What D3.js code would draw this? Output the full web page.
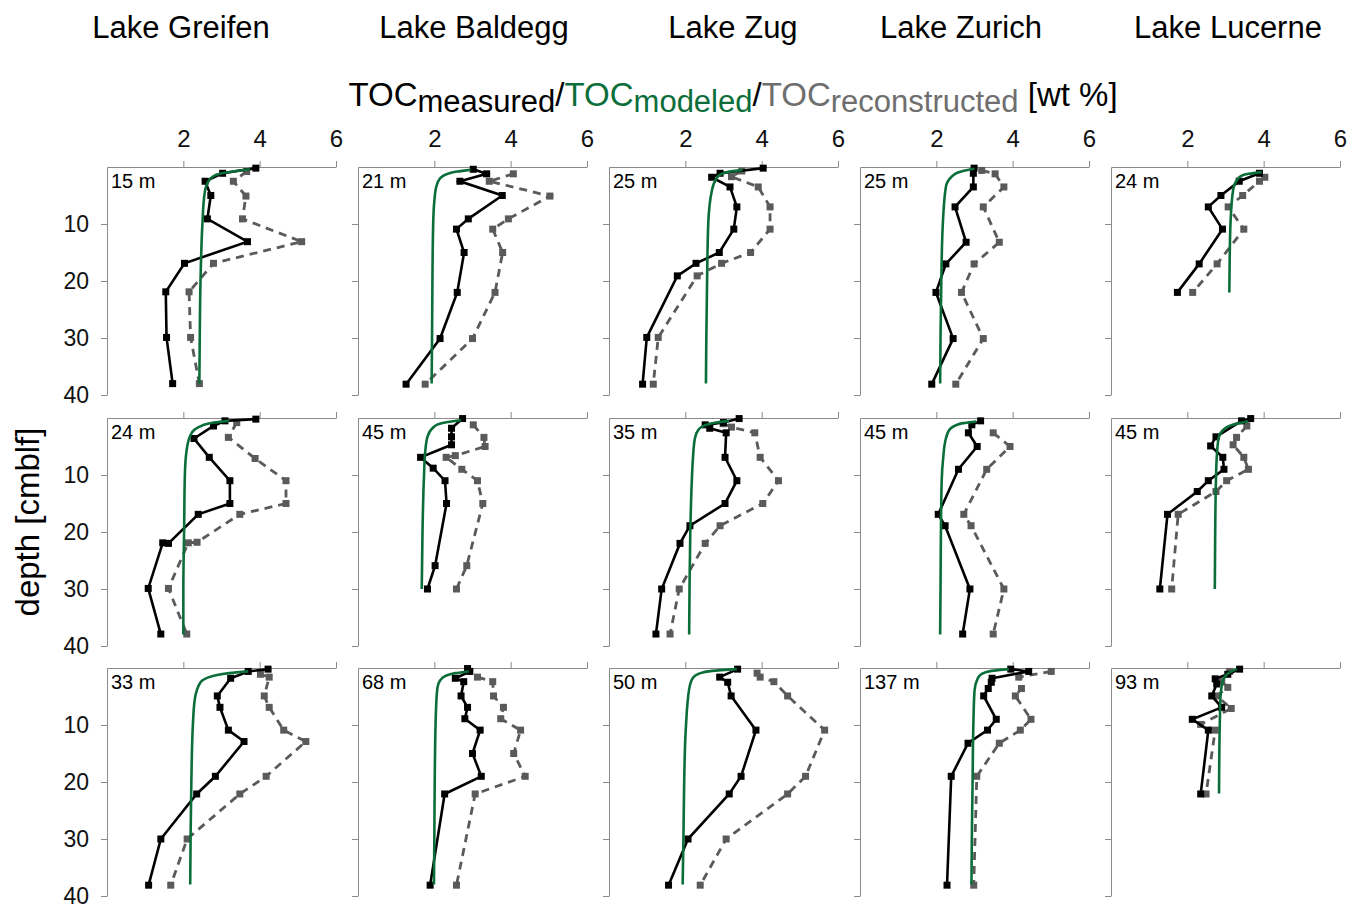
<!DOCTYPE html>
<html>
<head>
<meta charset="utf-8">
<script src="https://cdn.jsdelivr.net/npm/d3@7"></script>
<style>
  body { margin: 0; background: #fff; }
  svg { font-family: "Liberation Sans", Arial, sans-serif; }
</style>
</head>
<body>
<div id="chart"></div>
<script>
const lakes = ["Lake Greifen", "Lake Baldegg", "Lake Zug", "Lake Zurich", "Lake Lucerne"];

// water depth of each core, row by row (left to right)
const waterDepths = [
  "15 m", "21 m", "25 m", "25 m", "24 m",
  "24 m", "45 m", "35 m", "45 m", "45 m",
  "33 m", "68 m", "50 m", "137 m", "93 m"
];

const xTicks = [2, 4, 6];
const yTicks = [10, 20, 30, 40];

// [TOC wt %, depth cm]
const measuredTOC = [
  [[3.90,0.2],[3.03,1.1],[2.57,2.5],[2.72,5.0],[2.63,9.1],[3.68,13.1],[2.03,16.9],[1.54,21.9],[1.56,29.9],[1.72,38.0]],
  [[3.02,0.4],[3.37,1.2],[2.67,2.5],[3.78,5.0],[2.89,9.1],[2.58,10.9],[2.78,15.0],[2.60,22.0],[2.15,30.1],[1.26,38.1]],
  [[4.04,0.2],[2.91,1.1],[2.69,1.8],[3.17,3.5],[3.35,7.0],[3.27,10.9],[2.89,15.0],[2.28,16.9],[1.79,19.1],[0.99,29.9],[0.88,38.1]],
  [[2.99,0.2],[2.97,1.1],[2.97,3.5],[2.49,7.0],[2.78,13.2],[2.25,17.0],[1.99,22.0],[2.44,30.1],[1.88,38.1]],
  [[3.89,1.1],[3.36,2.5],[2.88,5.0],[2.55,7.0],[2.92,10.9],[2.31,17.0],[1.74,22.0]],
  [[3.90,0.2],[3.09,0.5],[2.79,1.4],[2.28,3.6],[2.68,6.9],[3.22,11.0],[3.22,15.0],[2.39,16.9],[1.61,22.0],[1.46,21.9],[1.08,29.9],[1.41,37.9]],
  [[2.74,0.1],[2.45,1.8],[2.45,3.3],[2.45,4.7],[1.64,6.9],[1.97,8.8],[2.28,11.0],[2.32,15.0],[2.02,25.9],[1.82,30.0]],
  [[3.41,0.1],[3.00,0.8],[2.52,1.2],[2.64,1.8],[3.07,2.6],[3.04,6.9],[3.35,11.0],[3.04,15.0],[2.12,18.9],[1.86,22.0],[1.38,30.0],[1.23,37.9]],
  [[3.16,0.5],[2.93,1.2],[2.84,2.6],[3.07,5.0],[2.58,9.0],[2.05,16.9],[2.23,18.9],[2.88,30.0],[2.69,37.9]],
  [[3.66,0.1],[3.42,0.5],[2.75,3.3],[2.61,4.9],[2.93,6.9],[2.96,9.0],[2.55,11.0],[2.26,12.9],[1.48,16.9],[1.28,30.0]],
  [[4.22,0.2],[3.70,0.6],[3.24,1.8],[2.89,4.9],[2.96,6.9],[3.18,10.9],[3.59,12.9],[2.84,19.0],[2.35,22.1],[1.41,30.0],[1.09,38.1]],
  [[2.87,0.1],[2.93,0.6],[2.55,1.8],[2.77,2.4],[2.70,4.9],[2.87,6.9],[2.80,8.9],[3.20,10.9],[3.00,15.0],[3.23,19.0],[2.27,22.1],[1.89,38.1]],
  [[3.37,0.2],[2.90,1.6],[3.11,2.5],[3.20,4.9],[3.85,10.9],[3.46,19.0],[3.15,22.1],[2.07,30.0],[1.56,38.1]],
  [[3.95,0.2],[4.42,0.6],[3.46,1.8],[3.44,2.5],[3.36,3.6],[3.24,4.9],[3.57,9.0],[3.34,10.9],[2.83,13.2],[2.39,19.0],[2.28,38.1]],
  [[3.37,0.2],[3.06,1.1],[2.73,1.9],[2.77,2.8],[2.64,4.9],[2.90,6.9],[2.13,9.0],[2.55,10.9],[2.35,22.1]]
];

const reconstructedTOC = [
  [[3.66,0.8],[3.31,2.5],[3.64,5.1],[3.55,9.1],[5.10,13.1],[2.79,16.9],[2.15,21.9],[2.19,29.9],[2.42,38.0]],
  [[4.07,1.2],[3.44,2.5],[5.03,5.1],[3.94,9.1],[3.53,10.9],[3.79,15.0],[3.59,22.0],[3.00,30.1],[1.76,38.1]],
  [[3.48,0.7],[3.21,1.7],[3.91,3.5],[4.22,7.0],[4.22,10.9],[3.71,15.0],[2.95,16.9],[2.31,19.1],[1.29,29.9],[1.16,38.1]],
  [[3.19,0.6],[3.54,1.2],[3.77,3.5],[3.23,7.0],[3.65,13.2],[2.99,17.0],[2.66,22.0],[3.23,30.1],[2.51,38.1]],
  [[4.03,1.8],[3.89,2.5],[3.45,5.0],[3.07,7.0],[3.48,10.9],[2.78,17.0],[2.14,22.0]],
  [[3.40,0.8],[3.18,3.4],[3.88,7.1],[4.69,11.0],[4.69,15.0],[3.48,16.9],[2.36,21.8],[2.13,21.9],[1.61,29.9],[2.09,37.9]],
  [[3.02,1.2],[3.30,3.4],[3.33,5.0],[2.55,6.6],[2.31,6.9],[2.72,9.0],[3.13,11.0],[3.27,15.0],[2.85,25.9],[2.58,30.0]],
  [[2.99,1.0],[3.21,1.6],[3.82,2.6],[3.96,6.9],[4.44,11.0],[4.03,15.0],[2.91,18.9],[2.52,22.0],[1.84,30.0],[1.60,37.9]],
  [[3.49,2.6],[3.93,5.0],[3.32,9.0],[2.72,16.9],[2.91,18.9],[3.77,30.0],[3.49,37.9]],
  [[3.56,1.4],[3.29,3.4],[3.20,4.7],[3.48,6.9],[3.60,9.0],[3.03,11.0],[2.75,12.9],[1.76,16.9],[1.59,30.0]],
  [[4.02,1.1],[4.25,1.6],[4.12,4.9],[4.25,6.9],[4.63,10.9],[5.21,12.9],[4.17,19.0],[3.48,22.1],[2.10,30.0],[1.67,38.1]],
  [[3.13,1.6],[3.53,2.4],[3.55,4.9],[3.81,6.9],[3.74,8.9],[4.26,10.9],[4.08,15.0],[4.38,19.0],[3.07,22.1],[2.58,38.1]],
  [[3.88,0.9],[3.96,1.6],[4.32,2.4],[4.68,4.9],[5.65,10.9],[5.15,19.0],[4.68,22.1],[3.07,30.0],[2.39,38.1]],
  [[5.01,0.6],[4.16,1.6],[4.23,3.6],[4.07,4.9],[4.48,9.0],[4.20,10.9],[3.65,13.2],[3.06,19.0],[2.98,38.1]],
  [[3.11,0.6],[2.90,2.4],[3.06,3.4],[2.77,4.9],[3.15,7.1],[2.35,9.9],[2.73,10.9],[2.49,22.1]]
];

const modeledTOC = [
  [[3.75,0.4],[3.3,0.8],[2.95,1.2],[2.75,1.8],[2.62,3],[2.55,5],[2.5,10],[2.45,20],[2.43,30],[2.42,38]],
  [[2.95,0.5],[2.6,0.8],[2.35,1.2],[2.15,2],[2.05,3.5],[2.0,6],[1.97,10],[1.95,20],[1.94,30],[1.93,38]],
  [[3.5,0.5],[3.1,0.9],[2.9,1.4],[2.8,2.2],[2.7,4],[2.6,10],[2.57,20],[2.55,30],[2.54,38]],
  [[3.0,0.3],[2.75,0.6],[2.55,1.0],[2.4,1.7],[2.25,3.5],[2.17,10],[2.13,20],[2.11,30],[2.1,38]],
  [[3.95,0.9],[3.6,1.2],[3.4,1.6],[3.27,2.6],[3.2,4],[3.13,10],[3.11,16],[3.1,22]],
  [[3.2,0.5],[2.8,0.8],[2.5,1.3],[2.3,2],[2.17,3.3],[2.08,6],[2.04,10],[2.02,20],[2.0,30],[2.0,38]],
  [[2.7,0.4],[2.35,0.7],[2.1,1.1],[1.95,1.8],[1.82,3.3],[1.76,6],[1.73,10],[1.69,20],[1.67,30]],
  [[3.15,0.5],[2.8,0.8],[2.5,1.3],[2.35,2],[2.25,3.6],[2.2,7],[2.17,11],[2.13,20],[2.11,30],[2.1,38]],
  [[3.05,0.6],[2.7,0.9],[2.5,1.3],[2.35,2],[2.25,3.6],[2.18,7],[2.14,11],[2.12,20],[2.11,30],[2.1,38]],
  [[3.6,0.6],[3.35,0.9],[3.1,1.4],[2.95,2],[2.82,3.5],[2.77,7],[2.75,11],[2.73,20],[2.72,30]],
  [[3.7,0.6],[3.2,0.9],[2.8,1.35],[2.45,2.5],[2.3,5.5],[2.25,10],[2.21,20],[2.19,30],[2.18,38]],
  [[2.9,0.6],[2.55,0.9],[2.3,1.35],[2.15,2.2],[2.08,3.5],[2.04,8],[2.01,20],[2.0,30],[1.99,38]],
  [[3.35,0.2],[2.7,0.5],[2.35,1.0],[2.2,1.7],[2.1,3.7],[2.01,11],[1.97,20],[1.95,30],[1.93,38]],
  [[3.9,0.2],[3.45,0.5],[3.2,1.0],[3.08,1.9],[3.0,4],[2.97,10],[2.95,20],[2.93,30],[2.92,38]],
  [[3.3,0.2],[3.1,0.8],[2.95,1.9],[2.87,5],[2.85,10],[2.83,22]]
];

// layout
const width = 1348, height = 905;
const panelLeft = [107, 358, 609, 860, 1111];
const panelTop = [167, 418, 668];
const panelW = 229, panelH = 228;
const titleX = [181, 474, 733, 961, 1228];

const green = "#0b6e3a", grey = "#5a5a5a", axisColor = "#8a8a8a";

const svg = d3.select("#chart").append("svg")
  .attr("width", width)
  .attr("height", height);

const x = d3.scaleLinear().domain([0, 6]).range([0, panelW]);
const y = d3.scaleLinear().domain([0, 40]).range([0, panelH]);

// column titles
svg.selectAll(".lake")
  .data(lakes)
  .enter()
  .append("text")
  .attr("x", (d, i) => titleX[i])
  .attr("y", 38)
  .attr("text-anchor", "middle")
  .attr("font-size", "31px")
  .text((d) => d);

// axis title with subscripts
const t = svg.append("text")
  .attr("x", 733)
  .attr("y", 106)
  .attr("text-anchor", "middle")
  .attr("font-size", "33px");
t.append("tspan").text("TOC");
t.append("tspan").attr("dy", 6).attr("font-size", "31px").text("measured");
t.append("tspan").attr("dy", -6).text("/");
t.append("tspan").attr("fill", green).text("TOC");
t.append("tspan").attr("fill", green).attr("dy", 6).attr("font-size", "31px").text("modeled");
t.append("tspan").attr("dy", -6).text("/");
t.append("tspan").attr("fill", "#6e6e6e").text("TOC");
t.append("tspan").attr("fill", "#6e6e6e").attr("dy", 6).attr("font-size", "31px").text("reconstructed");
t.append("tspan").attr("dy", -6).text(" [wt %]");

// y label
svg.append("text")
  .attr("transform", "translate(39,522) rotate(-90)")
  .attr("text-anchor", "middle")
  .attr("font-size", "33px")
  .text("depth [cmblf]");

const line = d3.line().x((d) => x(d[0])).y((d) => y(d[1]));
const smooth = d3.line().x((d) => x(d[0])).y((d) => y(d[1])).curve(d3.curveMonotoneY);

waterDepths.forEach((label, i) => {
  const row = Math.floor(i / 5), col = i % 5;
  const g = svg.append("g")
    .attr("transform", `translate(${panelLeft[col]},${panelTop[row]})`);

  // top axis
  const xAxis = d3.axisTop(x).tickValues(xTicks).tickSize(6).tickSizeOuter(0).tickPadding(14)
    .tickFormat(row === 0 ? d3.format("d") : () => "");
  g.append("g").call(xAxis)
    .call((a) => a.selectAll("path, line").attr("stroke", axisColor))
    .call((a) => a.selectAll("text").attr("font-size", "24px").attr("fill", "#111").attr("font-family", null));

  // left axis
  const yAxis = d3.axisLeft(y).tickValues(yTicks).tickSize(6).tickSizeOuter(0).tickPadding(12)
    .tickFormat(col === 0 ? d3.format("d") : () => "");
  g.append("g").call(yAxis)
    .call((a) => a.selectAll("path, line").attr("stroke", axisColor))
    .call((a) => a.selectAll("text").attr("font-size", "23px").attr("fill", "#111").attr("font-family", null));

  g.append("text")
    .attr("x", 4)
    .attr("y", 21)
    .attr("font-size", "20px")
    .text(label);

  // reconstructed (grey dashed)
  g.append("path")
    .datum(reconstructedTOC[i])
    .attr("fill", "none")
    .attr("stroke", grey)
    .attr("stroke-width", 2.8)
    .attr("stroke-dasharray", "8,6")
    .attr("d", line);
  g.selectAll(".rec")
    .data(reconstructedTOC[i])
    .enter()
    .append("rect")
    .attr("x", (d) => x(d[0]) - 3.5)
    .attr("y", (d) => y(d[1]) - 3.5)
    .attr("width", 7)
    .attr("height", 7)
    .attr("fill", grey);

  // measured (black)
  g.append("path")
    .datum(measuredTOC[i])
    .attr("fill", "none")
    .attr("stroke", "#000")
    .attr("stroke-width", 2.6)
    .attr("d", line);
  g.selectAll(".meas")
    .data(measuredTOC[i])
    .enter()
    .append("rect")
    .attr("x", (d) => x(d[0]) - 3.5)
    .attr("y", (d) => y(d[1]) - 3.5)
    .attr("width", 7)
    .attr("height", 7)
    .attr("fill", "#000");

  // modeled (green)
  g.append("path")
    .datum(modeledTOC[i])
    .attr("fill", "none")
    .attr("stroke", green)
    .attr("stroke-width", 2.6)
    .attr("d", smooth);
});
</script>
</body>
</html>
